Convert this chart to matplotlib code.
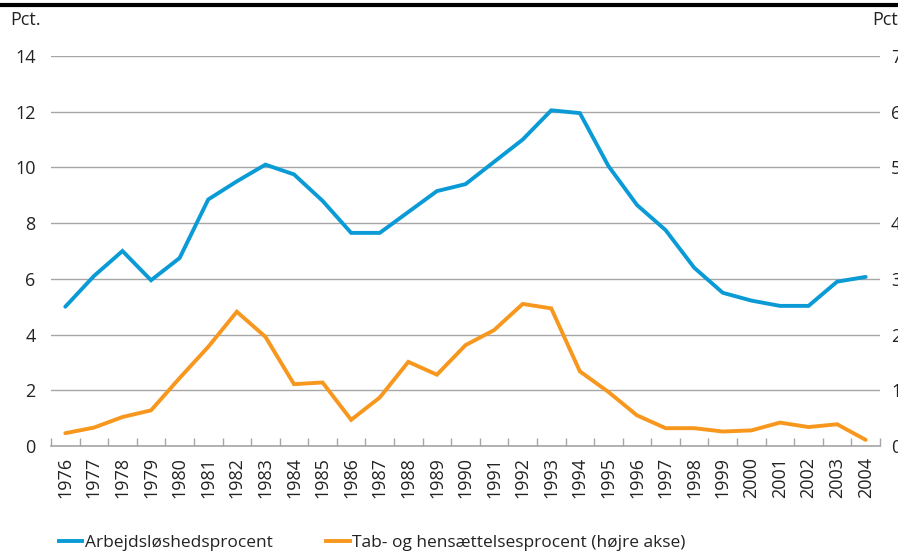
import matplotlib
matplotlib.use('Agg')
import matplotlib.pyplot as plt
from matplotlib.lines import Line2D

plt.rcParams['font.family'] = ['Open Sans', 'DejaVu Sans']

years = [str(y) for y in range(1976, 2005)]
# arbejdsløshedsprocent (venstre akse)
ledighed = [5.0, 6.1, 7.0, 5.95, 6.75, 8.85, 9.5, 10.1, 9.75, 8.8,
            7.65, 7.65, 8.4, 9.15, 9.4, 10.2, 11.0, 12.05, 11.95, 10.05,
            8.65, 7.75, 6.4, 5.5, 5.22, 5.03, 5.03, 5.9, 6.07]
# tab- og hensættelsesprocent (højre akse)
tab = [0.23, 0.33, 0.52, 0.64, 1.22, 1.78, 2.41, 1.96, 1.11, 1.14,
       0.47, 0.87, 1.51, 1.28, 1.81, 2.08, 2.55, 2.47, 1.34, 0.97,
       0.55, 0.32, 0.32, 0.26, 0.28, 0.42, 0.34, 0.39, 0.11]

blaa = '#0a9bd7'
orange = '#f7971e'
graa = '#a6a6a6'
tekst = '#222222'
fs = 13

fig = plt.figure(figsize=(8.98, 5.53), dpi=100)
ax = fig.add_axes([51/898, 107/553, 829/898, 390/553])
ax2 = ax.twinx()

x = list(range(len(years)))
ax.plot(x, ledighed, color=blaa, lw=2.8, solid_capstyle='round', solid_joinstyle='miter', zorder=3)
ax2.plot(x, tab, color=orange, lw=2.8, solid_capstyle='round', solid_joinstyle='miter', zorder=3)

ax.set_xlim(-0.5, len(years) - 0.5)
ax.set_ylim(0, 14)
ax2.set_ylim(0, 7)
ax.set_yticks(range(0, 15, 2))
ax2.set_yticks(range(0, 8))

ax.grid(axis='y', color=graa, lw=1)
ax.set_axisbelow(True)

for a in (ax, ax2):
    for s in ('top', 'left', 'right'):
        a.spines[s].set_visible(False)
ax2.spines['bottom'].set_visible(False)
ax.spines['bottom'].set_color(graa)
ax.spines['bottom'].set_linewidth(1.2)

ax.set_xticks(x)
ax.set_xticklabels(years, rotation=90, fontsize=fs, color=tekst)
ax.tick_params(axis='x', which='major', length=0, pad=8)
ax.set_xticks([i - 0.5 for i in range(len(years) + 1)], minor=True)
ax.tick_params(axis='x', which='minor', direction='in', length=6, color=graa, width=1)

ax.tick_params(axis='y', length=0, pad=11, labelsize=fs, labelcolor=tekst)
ax2.tick_params(axis='y', length=0, pad=8, labelsize=fs, labelcolor=tekst)

fig.text(10/898, 1 - 20/553, 'Pct.', fontsize=fs, color=tekst, va='center', ha='left')
fig.text(872/898, 1 - 20/553, 'Pct.', fontsize=fs, color=tekst, va='center', ha='left')

fig.add_artist(Line2D([0, 1], [1 - 5/553, 1 - 5/553], color='black', lw=3, transform=fig.transFigure))

handles = [Line2D([], [], color=blaa, lw=2.8), Line2D([], [], color=orange, lw=2.8)]
fig.legend(handles, ['Arbejdsløshedsprocent', 'Tab- og hensættelsesprocent (højre akse)'],
           loc='lower left', bbox_to_anchor=(43/898, -0.025), ncol=2, frameon=False,
           fontsize=12.5, handlelength=1.35, handletextpad=0.15, columnspacing=3.1,
           labelcolor=tekst)

fig.savefig('out.png', dpi=100)
